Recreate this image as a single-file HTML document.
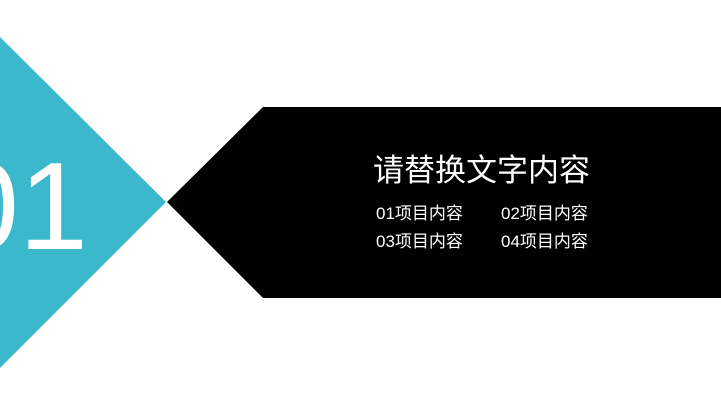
<!DOCTYPE html>
<html><head><meta charset="utf-8"><style>
html,body{margin:0;padding:0;background:#fff;}
body{width:721px;height:405px;position:relative;overflow:hidden;font-family:"Liberation Sans","Noto Sans CJK SC",sans-serif;}
svg{position:absolute;left:0;top:0;}
.clip{position:absolute;left:0;top:0;width:200px;height:405px;overflow:hidden;}
.num{position:absolute;left:-50px;top:145px;font-size:124px;line-height:124px;color:#fff;white-space:nowrap;}
.t{position:absolute;color:#fff;white-space:nowrap;}
.title{left:373px;top:151px;font-size:31px;line-height:40px;}
.it{font-size:17px;line-height:22px;}
</style></head><body>
<svg width="721" height="405">
<polygon points="0,37 166,202 0,368" fill="#3bb8cc"/>
<polygon points="263,107 721,107 721,298 263,298 167,202" fill="#000"/>
</svg>
<div class="clip"><div class="num">01</div></div>
<div class="t title">请替换文字内容</div>
<div class="t it" style="left:376px;top:203px;">01项目内容</div>
<div class="t it" style="left:501px;top:203px;">02项目内容</div>
<div class="t it" style="left:376px;top:231px;">03项目内容</div>
<div class="t it" style="left:501px;top:231px;">04项目内容</div>
</body></html>
